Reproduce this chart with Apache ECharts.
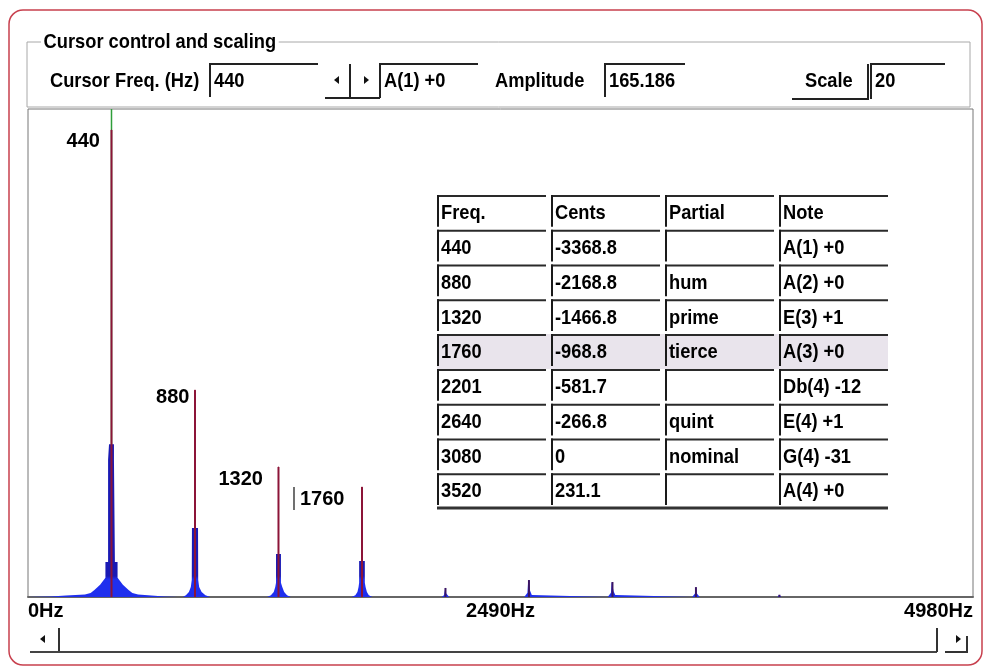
<!DOCTYPE html>
<html>
<head>
<meta charset="utf-8">
<script src="https://cdn.jsdelivr.net/npm/echarts@6/dist/echarts.min.js"></script>
<style>
  html, body { margin: 0; padding: 0; background: #fff; }
  #main { width: 988px; height: 669px; }
</style>
</head>
<body>
<div id="main"></div>
<script>
// spectrum trace: [Hz, amplitude]
const spectrum = [
  [0, 0], [120, 0.2], [200, 0.5], [300, 0.9], [330, 1.4], [350, 2.5], [380, 4.3], [408, 6.8],
  [408, 12.4], [422, 12.4], [422, 48.5], [427, 48.5], [427, 54], [438, 54], [440, 165.186],
  [442, 54], [453, 54], [453, 48.5], [458, 48.5], [458, 12.4], [472, 12.4], [472, 6.8],
  [500, 4.3], [530, 2.5], [550, 1.4], [580, 0.9], [650, 0.5], [720, 0.2], [790, 0],
  [815, 0], [832, 0.6], [848, 1.8], [858, 3.5], [863, 6], [864, 24.4], [878, 24.4],
  [880, 73.2], [882, 24.4], [896, 24.4], [897, 6], [902, 3.5], [915, 1.8], [935, 0.6], [960, 0],
  [1260, 0], [1280, 0.6], [1295, 1.8], [1303, 3.5], [1307, 5], [1307, 15.2], [1318, 15.2],
  [1320, 46.0], [1322, 15.2], [1333, 15.2], [1333, 5], [1340, 3.5], [1350, 1.8], [1365, 0.6], [1385, 0],
  [1705, 0], [1725, 0.6], [1736, 1.8], [1742, 3.5], [1745, 5], [1745, 12.7], [1758, 12.7],
  [1760, 38.9], [1762, 12.7], [1775, 12.7], [1775, 5], [1779, 3.5], [1786, 1.8], [1796, 0.6], [1815, 0],
  [2180, 0], [2192, 0.6], [2197, 1.3], [2199, 3.2], [2201, 3.2], [2203, 1.3], [2208, 0.6], [2220, 0],
  [2615, 0], [2625, 0.7], [2632, 1.5], [2634, 2.2], [2636, 6.0], [2644, 6.0], [2646, 2.2],
  [2648, 1.5], [2655, 0.7], [2665, 0],
  [3055, 0], [3065, 0.7], [3072, 1.5], [3074, 2.0], [3076, 5.3], [3084, 5.3], [3086, 2.0],
  [3088, 1.5], [3095, 0.7], [3105, 0],
  [3500, 0], [3510, 0.6], [3516, 1.3], [3518, 3.5], [3522, 3.5], [3524, 1.3], [3530, 0.6], [3540, 0],
  [3950, 0], [3958, 0.8], [3962, 0.8], [3970, 0], [4980, 0]
];

// detected peaks (red markers)
const peakFreq = [440, 880, 1320, 1760, 2200, 2640, 3080, 3520, 3960];
const peakAmp = [165.186, 73.2, 46.0, 38.9, 3.2, 6.0, 5.3, 3.5, 0.8];
const labelledPeaks = [440, 880, 1320, 1760];
const cursorFreq = 440;
const freqMin = 0, freqMax = 4980, freqStep = 2490;
const ampMax = 172.6;

// peak table
const tableHead = ['Freq.', 'Cents', 'Partial', 'Note'];
const tableFreq = [440, 880, 1320, 1760, 2201, 2640, 3080, 3520];
const tableCents = [-3368.8, -2168.8, -1466.8, -968.8, -581.7, -266.8, 0, 231.1];
const tablePartial = ['', 'hum', 'prime', 'tierce', '', 'quint', 'nominal', ''];
const tableNote = ['A(1) +0', 'A(2) +0', 'E(3) +1', 'A(3) +0', 'Db(4) -12', 'E(4) +1', 'G(4) -31', 'A(4) +0'];
const selectedRow = 3;

const fam = '"Liberation Sans", Arial, sans-serif';
const FONT = 'bold 21px ' + fam;
const SQUEEZE = 0.87;   // the dialog font is tall and narrow

function cellText(c, r) {
  if (r === 0) return tableHead[c];
  return String([tableFreq, tableCents, tablePartial, tableNote][c][r - 1]);
}

const cells = [];
for (let r = 0; r <= tableFreq.length; r++) {
  for (let c = 0; c < tableHead.length; c++) cells.push([c, r]);
}
const rowNames = [];
for (let r = 0; r <= tableFreq.length; r++) rowNames.push('r' + r);

// label nudges next to peak lines, px
const nudge = { 440: [-11, 12], 880: [-5, 7], 1320: [-15, 13], 1760: [-17, 12] };

const peakLabelData = labelledPeaks.map(f => ({
  value: [f, peakAmp[peakFreq.indexOf(f)]],
  label: { offset: nudge[f] }
}));

function sunken(x, y1, y2, x2) {
  return {
    type: 'polyline',
    shape: { points: [[x, y2], [x, y1], [x2, y1]] },
    style: { stroke: '#222', lineWidth: 2, fill: null }
  };
}
function txt(x, y, s, extra) {
  return {
    type: 'text', x: x, y: y, scaleX: SQUEEZE,
    style: Object.assign({ text: s, font: FONT, fill: '#000', verticalAlign: 'middle' }, extra || {})
  };
}
function ln(x1, y1, x2, y2, c, w) {
  return { type: 'line', shape: { x1, y1, x2, y2 }, style: { stroke: c || '#333', lineWidth: w || 2 } };
}

const chart = echarts.init(document.getElementById('main'));

chart.setOption({
  backgroundColor: '#fff',
  animation: false,
  textStyle: { fontFamily: fam },
  grid: [
    { left: 28, right: 15, top: 109, bottom: 72, show: true, borderColor: '#777', borderWidth: 1, backgroundColor: '#fff' },
    { left: 437, top: 195, width: 456, height: 313 }
  ],
  xAxis: [
    {
      type: 'value', gridIndex: 0, min: freqMin, max: freqMax, interval: freqStep,
      axisLine: { show: true, lineStyle: { color: '#666', width: 2 } },
      axisTick: { show: false },
      splitLine: { show: false },
      axisLabel: {
        formatter: v => v + 'Hz', color: '#000', fontWeight: 'bold', fontSize: 20, margin: 4,
        fontFamily: fam, showMinLabel: true, showMaxLabel: true,
        alignMinLabel: 'left', alignMaxLabel: 'right'
      }
    },
    { type: 'category', gridIndex: 1, data: tableHead, show: false }
  ],
  yAxis: [
    { type: 'value', gridIndex: 0, min: 0, max: ampMax, show: false, splitLine: { show: false } },
    { type: 'category', gridIndex: 1, data: rowNames, inverse: true, show: false }
  ],
  series: [
    {
      name: 'cursor', type: 'line', xAxisIndex: 0, yAxisIndex: 0, z: 1,
      data: [[cursorFreq, 0], [cursorFreq, ampMax]],
      showSymbol: false, lineStyle: { color: '#2f9e3a', width: 1.5 }, silent: true
    },
    {
      name: 'spectrum', type: 'line', xAxisIndex: 0, yAxisIndex: 0, z: 2,
      data: spectrum, showSymbol: false,
      lineStyle: { width: 0, opacity: 0 },
      areaStyle: {
        opacity: 1,
        color: new echarts.graphic.LinearGradient(0, 0, 0, 1, [
          { offset: 0, color: '#1a1ab4' },
          { offset: 0.955, color: '#1a1ab4' },
          { offset: 0.962, color: '#1f2fee' },
          { offset: 1, color: '#1f2fee' }
        ])
      },
      silent: true
    },
    {
      name: 'peaks', type: 'bar', xAxisIndex: 0, yAxisIndex: 0, z: 3,
      data: peakFreq.map((f, i) => [f, peakAmp[i]]),
      barWidth: 2, silent: true,
      itemStyle: { color: p => p.value[1] < 10 ? '#3a1464' : '#8c1438' }
    },
    {
      name: 'labels', type: 'scatter', xAxisIndex: 0, yAxisIndex: 0, z: 4,
      data: peakLabelData, symbolSize: 1, itemStyle: { color: '#8c1438', opacity: 1 }, silent: true,
      label: {
        show: true, position: 'left', distance: 0, opacity: 1,
        formatter: p => p.value[0] === 1760 ? '{bar||}' + p.value[0] : String(p.value[0]),
        color: '#000', fontWeight: 'bold', fontSize: 20, fontFamily: fam, textBorderWidth: 0,
        rich: { bar: { color: '#666', fontWeight: 'normal', fontSize: 23, padding: [0, 3, 0, 0] } }
      }
    },
    {
      name: 'table', type: 'custom', xAxisIndex: 1, yAxisIndex: 1, z: 10,
      data: cells, silent: true,
      renderItem: function (params, api) {
        const c = api.value(0), r = api.value(1);
        const p = api.coord([c, r]);
        const s = api.size([1, 1]);
        const x0 = p[0] - s[0] / 2, y0 = p[1] - s[1] / 2;
        const w = s[0] - 5, h = s[1];
        const last = c === tableHead.length - 1;
        const kids = [
          { type: 'rect', shape: { x: x0, y: y0, width: last ? w : s[0], height: h },
            style: { fill: r === selectedRow + 1 ? '#e9e4ec' : '#fff' } },
          { type: 'line', shape: { x1: x0, y1: y0 + 1, x2: x0 + w, y2: y0 + 1 }, style: { stroke: '#2a2a2a', lineWidth: 2 } },
          { type: 'line', shape: { x1: x0 + 1, y1: y0, x2: x0 + 1, y2: y0 + h - 3 }, style: { stroke: '#1a1a1a', lineWidth: 2 } },
          { type: 'text', x: x0 + 4, y: y0 + h / 2 + 1, scaleX: SQUEEZE,
            style: { text: cellText(c, r), font: FONT, fill: '#000', verticalAlign: 'middle' } }
        ];
        if (r === tableFreq.length) {
          kids.push({ type: 'line', shape: { x1: x0, y1: y0 + h, x2: x0 + (last ? w : s[0]), y2: y0 + h }, style: { stroke: '#333', lineWidth: 3 } });
        }
        return { type: 'group', children: kids };
      }
    }
  ],
  graphic: [
    { type: 'rect', shape: { x: 9, y: 10, width: 973, height: 655, r: 14 }, style: { fill: null, stroke: '#c8404e', lineWidth: 1.5 } },
    { type: 'rect', shape: { x: 27, y: 42, width: 943, height: 65 }, style: { fill: null, stroke: '#a8a8a8', lineWidth: 1 } },
    txt(41, 42, 'Cursor control and scaling', { backgroundColor: '#fff', padding: [0, 3] }),
    txt(50, 81, 'Cursor Freq. (Hz)'),
    sunken(210, 64, 97, 318),
    txt(214, 81, '440'),
    { type: 'polygon', shape: { points: [[334, 80], [339, 76], [339, 84]] }, style: { fill: '#111' } },
    ln(350, 64, 350, 98, '#222', 2),
    { type: 'polygon', shape: { points: [[364, 76], [369, 80], [364, 84]] }, style: { fill: '#111' } },
    ln(325, 98, 380, 98, '#222', 2),
    sunken(380, 64, 98, 478),
    txt(384, 81, 'A(1) +0'),
    txt(495, 81, 'Amplitude'),
    sunken(605, 64, 97, 685),
    txt(609, 81, '165.186'),
    txt(805, 81, 'Scale'),
    { type: 'polyline', shape: { points: [[792, 99], [868, 99], [868, 64]] }, style: { stroke: '#222', lineWidth: 2, fill: null } },
    sunken(871, 64, 99, 945),
    txt(875, 81, '20'),
    { type: 'polygon', shape: { points: [[40, 639], [45, 635], [45, 643]] }, style: { fill: '#111' } },
    ln(59, 628, 59, 652, '#333', 2),
    ln(30, 652, 937, 652, '#444', 2),
    ln(937, 628, 937, 652, '#333', 2),
    { type: 'polygon', shape: { points: [[956, 635], [961, 639], [956, 643]] }, style: { fill: '#111' } },
    { type: 'polyline', shape: { points: [[945, 652], [967, 652], [967, 636]] }, style: { stroke: '#333', lineWidth: 2, fill: null } }
  ]
});
</script>
</body>
</html>
